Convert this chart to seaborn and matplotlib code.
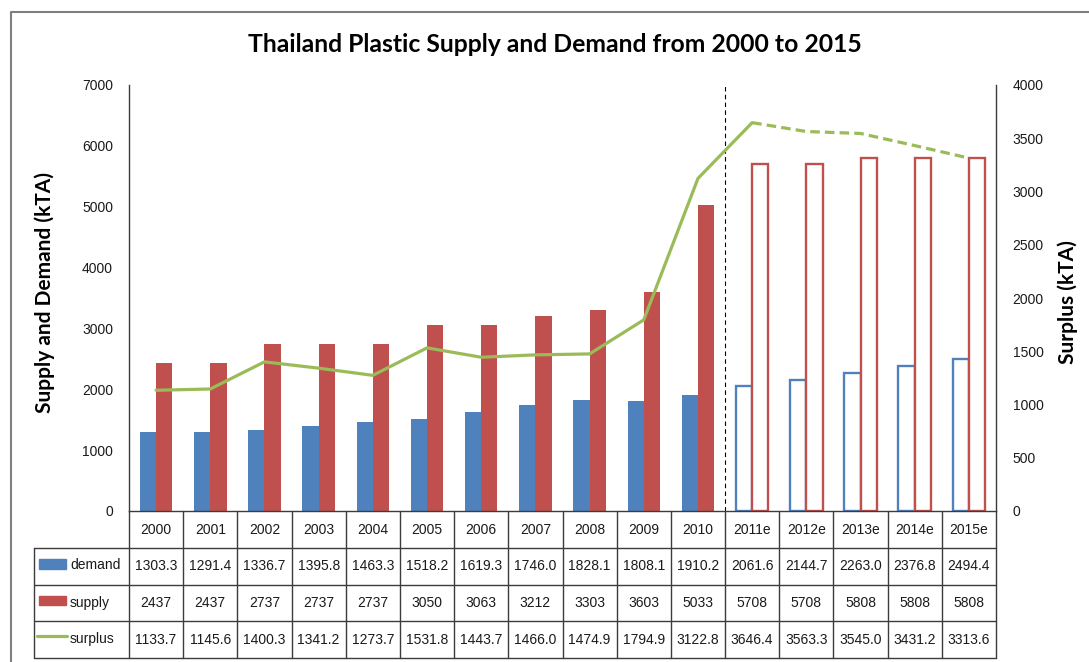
import matplotlib
matplotlib.use("Agg")
import matplotlib.pyplot as plt
import matplotlib.transforms as mtransforms
from matplotlib.lines import Line2D
from matplotlib.patches import Rectangle
import numpy as np
import pandas as pd
import seaborn as sns

# ---- data (kTA) ----
years = ["2000", "2001", "2002", "2003", "2004", "2005", "2006", "2007",
         "2008", "2009", "2010", "2011e", "2012e", "2013e", "2014e", "2015e"]
demand = [1303.3, 1291.4, 1336.7, 1395.8, 1463.3, 1518.2, 1619.3, 1746.0,
          1828.1, 1808.1, 1910.2, 2061.6, 2144.7, 2263.0, 2376.8, 2494.4]
supply = [2437, 2437, 2737, 2737, 2737, 3050, 3063, 3212,
          3303, 3603, 5033, 5708, 5708, 5808, 5808, 5808]
surplus = [1133.7, 1145.6, 1400.3, 1341.2, 1273.7, 1531.8, 1443.7, 1466.0,
           1474.9, 1794.9, 3122.8, 3646.4, 3563.3, 3545.0, 3431.2, 3313.6]
demand_txt = [f"{v:.1f}" for v in demand]
supply_txt = [f"{v:d}" for v in supply]
surplus_txt = [f"{v:.1f}" for v in surplus]
n_actual = 11  # years with reported figures; later years are estimates

BLUE, RED, GREEN = "#4F81BD", "#C0504D", "#9BBB59"
LINE = "#3c3c3c"
TXT = "#1a1a1a"
FS = 10

sns.set_theme(style="white")
plt.rcParams["font.family"] = ["Liberation Sans", "DejaVu Sans"]

W_PX, H_PX = 1089, 662
fig = plt.figure(figsize=(W_PX / 100, H_PX / 100), dpi=100)


def fx(px):
    return px / W_PX


def fy(py):
    return 1 - py / H_PX


AX_L, AX_R, AX_T, AX_B = 129, 996, 85, 511
ax = fig.add_axes([fx(AX_L), fy(AX_B), fx(AX_R - AX_L), (AX_B - AX_T) / H_PX])

# ---- bars ----
df = pd.DataFrame({
    "year": years * 2,
    "series": ["demand"] * len(years) + ["supply"] * len(years),
    "value": demand + supply,
})
sns.barplot(data=df, x="year", y="value", hue="series", palette=[BLUE, RED],
            width=0.6, saturation=1, linewidth=0, legend=False, ax=ax)
for cont, col in zip(ax.containers, [BLUE, RED]):
    for i, bar in enumerate(cont):
        if i >= n_actual:
            bar.set_facecolor("white")
            bar.set_edgecolor(col)
            bar.set_linewidth(1.7)

ax.set_xlim(-0.5, len(years) - 0.5)
ax.set_ylim(0, 7000)
ax.set_yticks(np.arange(0, 7001, 1000))
ax.set_xticks([])
ax.set_xlabel("")
ax.set_ylabel("")
ax.tick_params(axis="y", length=0, pad=11.5, labelsize=FS, labelcolor=TXT)
for s in ["top", "right"]:
    ax.spines[s].set_visible(False)
for s in ["left", "bottom"]:
    ax.spines[s].set_color(LINE)
    ax.spines[s].set_linewidth(1.0)

# boundary between reported and estimated years
ax.axvline(n_actual - 0.5, color="black", lw=0.8, ls=(0, (4, 3)))

# ---- surplus line on secondary axis ----
ax2 = ax.twinx()
xs = np.arange(len(years))
sns.lineplot(x=xs[:n_actual + 1], y=surplus[:n_actual + 1], color=GREEN,
             lw=2.3, ax=ax2)
sns.lineplot(x=xs[n_actual:], y=surplus[n_actual:], color=GREEN,
             lw=2.3, linestyle=(0, (3, 1.6)), ax=ax2)
ax2.set_ylim(0, 4000)
ax2.set_yticks(np.arange(0, 4001, 500))
ax2.set_xlim(-0.5, len(years) - 0.5)
ax2.set_ylabel("")
ax2.tick_params(axis="y", length=0, pad=12, labelsize=FS, labelcolor=TXT)
for s in ["top", "left", "bottom"]:
    ax2.spines[s].set_visible(False)
ax2.spines["right"].set_color(LINE)
ax2.spines["right"].set_linewidth(1.0)

# ---- data table below the plot ----
tr = mtransforms.blended_transform_factory(ax.transData, fig.transFigure)
step_px = (AX_R - AX_L) / len(years)
label_left = -0.5 - (AX_L - 34) / step_px
rows_px = [511, 548, 585, 621, 658]

for k in range(len(years) + 1):
    fig.add_artist(Line2D([k - 0.5, k - 0.5], [fy(rows_px[0]), fy(rows_px[-1])],
                          transform=tr, color=LINE, lw=1.0))
fig.add_artist(Line2D([label_left, label_left], [fy(rows_px[1]), fy(rows_px[-1])],
                      transform=tr, color=LINE, lw=1.0))
for r in rows_px[1:]:
    fig.add_artist(Line2D([label_left, len(years) - 0.5], [fy(r), fy(r)],
                          transform=tr, color=LINE, lw=1.0))

cat_y = fy((rows_px[0] + rows_px[1]) / 2)
for i, y in enumerate(years):
    fig.text(i, cat_y, y, transform=tr, ha="center", va="center",
             fontsize=FS, color=TXT)

for r, vals in enumerate([demand_txt, supply_txt, surplus_txt]):
    yc = fy((rows_px[r + 1] + rows_px[r + 2]) / 2)
    for i, v in enumerate(vals):
        fig.text(i, yc, v, transform=tr, ha="center", va="center",
                 fontsize=FS, color=TXT)

# series keys in the table's label column
fig.add_artist(Rectangle((fx(39), fy(569)), fx(27), 10 / H_PX,
                         transform=fig.transFigure, color=BLUE))
fig.add_artist(Rectangle((fx(39), fy(605)), fx(27), 9.5 / H_PX,
                         transform=fig.transFigure, color=RED))
fig.add_artist(Line2D([fx(37), fx(67)], [fy(636), fy(636)],
                      transform=fig.transFigure, color=GREEN, lw=2.3))
for name, py in [("demand", 565), ("supply", 603), ("surplus", 639)]:
    fig.text(fx(70), fy(py), name, ha="left", va="center",
             fontsize=FS, color=TXT)

# ---- titles ----
fig.text(fx(555), fy(44), "Thailand Plastic Supply and Demand from 2000 to 2015",
         ha="center", va="center", fontsize=17.8, fontweight="bold",
         family=["Lato", "DejaVu Sans"], color="black")
fig.text(fx(45), fy(293), "Supply and Demand (kTA)", rotation=90,
         ha="center", va="center", fontsize=15, fontweight="bold",
         family=["Lato", "DejaVu Sans"], color="black")
fig.text(fx(1068), fy(302), "Surplus (kTA)", rotation=90,
         ha="center", va="center", fontsize=15, fontweight="bold",
         family=["Lato", "DejaVu Sans"], color="black")

# outer chart frame
fig.add_artist(Line2D([fx(11), fx(11), 1.0], [0.0, fy(12), fy(12)],
                      transform=fig.transFigure, color="#7f7f7f", lw=1.5))

fig.savefig("out.png", dpi=100, facecolor="white")
